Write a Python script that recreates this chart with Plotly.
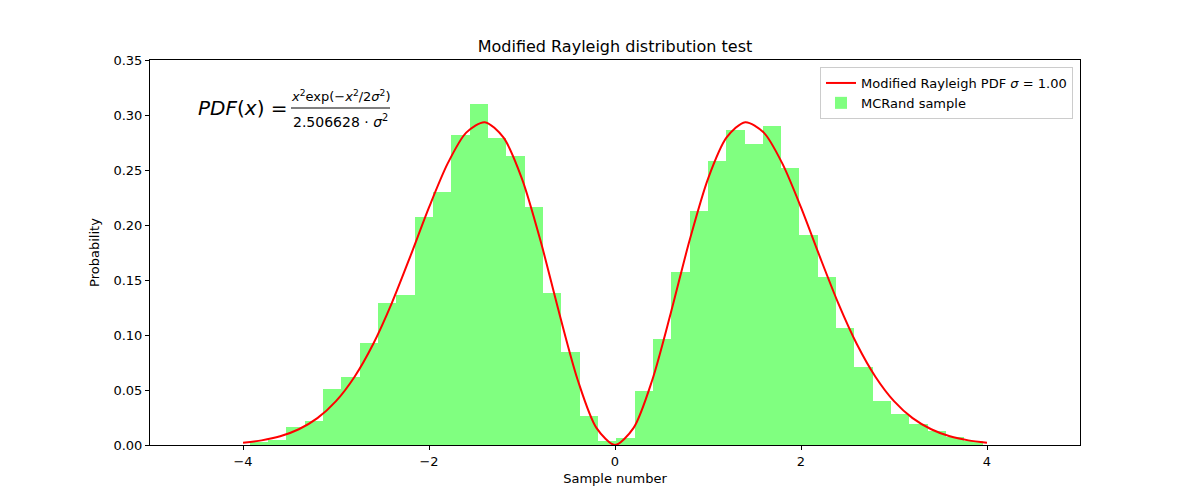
import plotly.graph_objects as go

# histogram bins (centres) and normalised heights
bin_centres = [-3.829, -3.632, -3.435, -3.238, -3.041, -2.844, -2.647, -2.450,
               -2.253, -2.056, -1.859, -1.662, -1.465, -1.268, -1.071, -0.874,
               -0.677, -0.480, -0.283, -0.086, 0.112, 0.309, 0.506, 0.703,
               0.900, 1.097, 1.294, 1.491, 1.688, 1.885, 2.082, 2.279,
               2.476, 2.673, 2.870, 3.067, 3.264, 3.461, 3.658, 3.855]
bin_heights = [0.003, 0.005, 0.016, 0.022, 0.051, 0.062, 0.093, 0.129,
               0.136, 0.207, 0.230, 0.282, 0.310, 0.279, 0.263, 0.216,
               0.138, 0.085, 0.026, 0.004, 0.006, 0.049, 0.096, 0.157,
               0.213, 0.258, 0.286, 0.274, 0.290, 0.252, 0.191, 0.153,
               0.106, 0.071, 0.040, 0.028, 0.019, 0.013, 0.007, 0.004]

# red PDF curve, read at steps of 0.2
pdf_x = [-4.0, -3.8, -3.6, -3.4, -3.2, -3.0, -2.8, -2.6, -2.4, -2.2, -2.0,
         -1.8, -1.6, -1.4, -1.2, -1.0, -0.8, -0.6, -0.4, -0.2, 0.0,
         0.2, 0.4, 0.6, 0.8, 1.0, 1.2, 1.4, 1.6, 1.8, 2.0,
         2.2, 2.4, 2.6, 2.8, 3.0, 3.2, 3.4, 3.6, 3.8, 4.0]
pdf_y = [0.0021, 0.0042, 0.0079, 0.0143, 0.0244, 0.0399, 0.0621, 0.0918,
         0.1290, 0.1717, 0.2160, 0.2558, 0.2840, 0.2935, 0.2796, 0.2420,
         0.1854, 0.1200, 0.0589, 0.0156, 0.0,
         0.0156, 0.0589, 0.1200, 0.1854, 0.2420, 0.2796, 0.2935, 0.2840,
         0.2558, 0.2160, 0.1717, 0.1290, 0.0918, 0.0621, 0.0399, 0.0244,
         0.0143, 0.0079, 0.0042, 0.0021]

y_ticks = [0.0, 0.05, 0.10, 0.15, 0.20, 0.25, 0.30, 0.35]
x_ticks = [-4, -2, 0, 2, 4]

FONT = "DejaVu Sans"

# the page puts the figure 8px in from the corner, so pull everything back
OFF = 8
L, R, T, B = 150 - OFF, 1080 - OFF, 60 - OFF, 445 - OFF

fig = go.Figure()

fig.add_trace(go.Bar(
    x=bin_centres,
    y=bin_heights,
    width=0.197,
    marker=dict(color="rgb(128,255,128)", line=dict(width=0)),
    name="MCRand sample",
    legendrank=2,
))

fig.add_trace(go.Scatter(
    x=pdf_x,
    y=pdf_y,
    mode="lines",
    line=dict(color="red", width=2, shape="spline", smoothing=0.8),
    name="Modified Rayleigh PDF <i>σ</i> = 1.00",
    legendrank=1,
))

# formula drawn as text: PDF(x) = numerator / denominator
def px_x(p):
    return (p - OFF - L) / (R - L)

def px_y(p):
    return (B - (p - OFF)) / (B - T)

fig.add_annotation(x=px_x(196), y=px_y(108), xref="paper", yref="paper",
                   text="<i>PDF</i>(<i>x</i>) =", showarrow=False,
                   xanchor="left", yanchor="middle",
                   font=dict(family=FONT, size=20, color="black"))
fig.add_shape(type="line", xref="paper", yref="paper",
              x0=px_x(291), x1=px_x(390), y0=px_y(108), y1=px_y(108),
              line=dict(color="black", width=1))
fig.add_annotation(x=px_x(340), y=px_y(106), xref="paper", yref="paper",
                   text="<i>x</i><sup>2</sup>exp(−<i>x</i><sup>2</sup>/2<i>σ</i><sup>2</sup>)",
                   showarrow=False, xanchor="center", yanchor="bottom",
                   font=dict(family=FONT, size=13, color="black"))
fig.add_annotation(x=px_x(340), y=px_y(110), xref="paper", yref="paper",
                   text="2.506628 · <i>σ</i><sup>2</sup>",
                   showarrow=False, xanchor="center", yanchor="top",
                   font=dict(family=FONT, size=14, color="black"))

axis_common = dict(
    showline=True, linecolor="black", linewidth=1, mirror=True,
    showgrid=False, zeroline=False,
    ticks="outside", ticklen=4, tickcolor="black",
    tickfont=dict(family=FONT, size=13, color="black"),
)

fig.update_layout(
    width=1200, height=500,
    plot_bgcolor="white", paper_bgcolor="white",
    margin=dict(l=L, r=1200 - R, t=T, b=500 - B),
    bargap=0,
    font=dict(family=FONT, size=13, color="black"),
    title=dict(text="Modified Rayleigh distribution test", x=(L + R) / 2 / 1200,
               xanchor="center", y=1 - (46 - OFF) / 500, yanchor="middle",
               font=dict(family=FONT, size=16, color="black")),
    xaxis=dict(range=[-5, 5], tickvals=x_ticks,
               title=dict(text="Sample number", standoff=6,
                          font=dict(family=FONT, size=13)),
               **axis_common),
    yaxis=dict(range=[0, 0.35], tickvals=y_ticks, tickformat=".2f",
               title=dict(text="Probability", standoff=10,
                          font=dict(family=FONT, size=13)),
               **axis_common),
    legend=dict(x=px_x(1073), y=px_y(67), xanchor="right", yanchor="top",
                bgcolor="white", bordercolor="#cccccc", borderwidth=1,
                font=dict(family=FONT, size=13, color="black"),
                traceorder="normal"),
)

fig.write_html("out.html")
